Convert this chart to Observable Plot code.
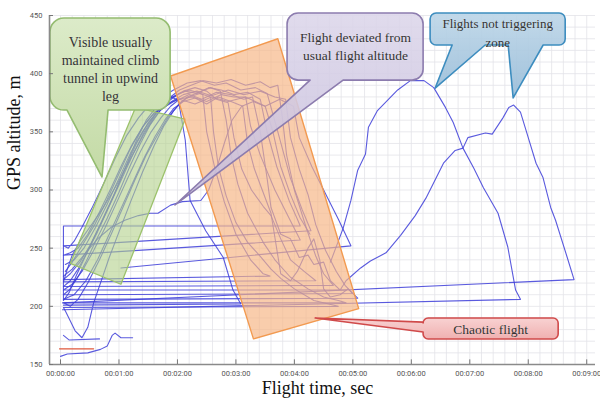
<!DOCTYPE html>
<html>
<head>
<meta charset="utf-8">
<script src="https://cdn.jsdelivr.net/npm/d3@7"></script>
<script src="https://cdn.jsdelivr.net/npm/@observablehq/plot@0.6"></script>
<style>
  body { margin: 0; background: #ffffff; }
  #chart svg { display: block; }
</style>
</head>
<body>
<div id="chart"></div>
<script>
// ---------- axes ----------
const xTicks = [0, 60, 120, 180, 240, 300, 360, 420, 480, 540];
const xTickLabels = ["00:00:00","00:01:00","00:02:00","00:03:00","00:04:00","00:05:00","00:06:00","00:07:00","00:08:00","00:09:00"];
const yTicks = [150, 200, 250, 300, 350, 400, 450];
const xLabel = "Flight time, sec";
const yLabel = "GPS altitude, m";

// ---------- flights: [time s, altitude m] ----------
const flight01 = [[3,269],[3,205],[9,212],[16,226],[26,244],[36,262],[46,280],[57,300],[68,322],[79,345],[88,360],[97,370],[108,377],[118,381],[128,385],[140,383],[152,388],[165,386],[178,382],[192,384],[205,378],[212,350],[222,320],[235,290],[243,275],[246,269],[3,269]];
const flight02 = [[3,252],[8,250],[14,256],[22,268],[32,284],[44,305],[56,327],[68,347],[80,362],[92,374],[104,380],[116,386],[130,392],[144,394],[158,390],[170,392],[185,386],[200,388],[212,383],[223,350],[236,310],[248,283],[257,265],[3,252]];
const flight03 = [[3,244],[10,246],[18,250],[28,262],[40,281],[52,302],[63,322],[74,340],[85,355],[96,366],[108,372],[120,378],[135,380],[150,376],[165,382],[178,380],[190,380],[195,355],[205,330],[220,300],[235,275],[246,257],[3,244]];
const flight04 = [[5,230],[12,238],[22,252],[35,270],[48,292],[60,314],[72,336],[84,354],[96,366],[108,374],[122,378],[138,374],[155,380],[172,376],[190,380],[210,372],[225,378],[239,372],[245,345],[258,320],[270,300],[285,275],[298,252],[62,233]];
const flight05 = [[3,223],[10,228],[20,238],[30,252],[42,272],[54,294],[66,318],[78,340],[90,358],[102,370],[112,377],[122,383],[132,386],[140,384],[146,382],[150,350],[158,320],[168,290],[180,262],[195,240],[208,228],[215,226],[3,223]];
const flight06 = [[3,221],[7,232],[12,244],[20,256],[30,268],[44,285],[58,305],[72,327],[85,347],[96,362],[106,372],[115,380],[126,385],[138,388],[150,385],[160,378],[172,375],[178,345],[186,318],[196,300],[208,286],[216,278],[226,258],[236,240],[250,230],[262,222],[3,221]];
const flight07 = [[3,217],[10,222],[18,232],[27,246],[38,264],[50,286],[62,308],[74,330],[86,350],[98,366],[110,378],[122,386],[134,390],[146,394],[160,392],[175,395],[190,390],[205,393],[215,388],[223,390],[228,360],[232,330],[240,300],[252,268],[262,243],[270,228],[280,218],[3,217]];
const flight08 = [[3,214],[12,219],[22,230],[34,248],[46,268],[58,290],[70,312],[82,333],[93,350],[103,362],[113,372],[122,378],[132,382],[145,378],[160,384],[175,382],[188,378],[197,380],[205,350],[212,310],[216,285],[226,262],[236,258],[245,242],[254,244],[260,236],[270,238],[277,222],[287,214],[293,214],[3,214]];
const flight09 = [[3,210],[9,214],[17,224],[26,238],[36,256],[48,276],[60,298],[71,320],[82,340],[92,356],[102,368],[114,376],[126,382],[140,385],[155,381],[172,386],[188,382],[205,385],[220,380],[231,378],[236,345],[245,318],[254,296],[262,270],[272,248],[283,230],[292,218],[300,211],[3,210]];
const flight10 = [[3,206],[14,210],[26,222],[38,240],[50,262],[62,284],[74,306],[86,328],[97,346],[107,360],[116,370],[126,376],[138,379],[150,374],[162,380],[175,376],[187,372],[192,340],[199,318],[207,300],[216,280],[226,228],[236,222],[243,230],[254,250],[260,258],[266,240],[270,215],[277,208],[287,210],[295,215],[305,207],[3,206]];
const flight11 = [[3,203],[10,200],[18,206],[28,220],[40,240],[52,262],[64,285],[76,308],[88,330],[100,348],[110,362],[120,372],[130,380],[142,384],[154,388],[164,385],[170,360],[175,330],[182,305],[192,280],[208,255],[220,240],[236,225],[254,215],[270,208],[285,205],[293,203],[3,203]];
const flight12 = [[3,199],[5,196],[15,179],[22,173],[28,182],[34,203],[41,220],[50,242],[60,264],[72,290],[84,315],[96,338],[106,355],[116,368],[124,376],[132,380],[143,383],[154,380],[157,350],[162,320],[170,295],[180,272],[192,255],[205,243],[216,232],[226,224],[240,215],[260,205],[285,200],[3,199]];
const flight13 = [[5,236],[14,240],[24,250],[36,268],[48,288],[60,310],[72,332],[84,350],[96,364],[106,374],[114,380],[121,377],[128,343],[133,291],[149,265],[167,242],[177,214],[185,202],[3,201]];
const flight14 = [[3,226],[12,232],[24,244],[38,258],[52,268],[66,274],[80,278],[92,280],[100,280],[113,287],[125,290],[144,291],[152,300],[160,318],[168,340],[176,360],[186,372],[198,376],[210,372],[218,350],[226,320],[236,296],[246,276],[256,262]];
const flightA = [[277,238],[290,267],[298,291],[305,317],[313,331],[316,354],[325,368],[346,386],[359,394],[373,394],[383,388],[395,371],[403,358],[413,336],[424,319],[434,302],[449,280],[459,251],[467,214],[472,206],[2,197]];
const flightB = [[287,214],[293,222],[308,233],[318,239],[334,246],[349,261],[364,278],[375,293],[393,323],[405,334],[413,336],[418,345],[436,349],[443,348],[454,362],[460,371],[465,373],[472,367],[480,345],[488,323],[495,311],[503,285],[508,274],[520,242],[527,223],[2,203]];
const shortFlight1 = [[3,175],[9,171],[40,172]];
const shortFlight2 = [[0,157],[7,159],[28,160],[41,163],[48,166],[53,175],[56,177],[62,173],[74,173]];
const redFlight = [[-1,163.5],[34,163.5]];

// ---------- highlighted zones (polygons, time s / altitude m) ----------
const greenZone = [[77,371],[128,361],[62,219],[10,237],[77,371]];
const orangeZone = [[113,398],[223,430],[306,198],[198,172],[113,398]];

// ---------- callouts ----------
const greenNote = ["Visible usually", "maintained climb", "tunnel in upwind", "leg"];
const purpleNote = ["Flight deviated from", "usual flight altitude"];
const blueNote = ["Flights not triggering", "zone"];
const redNote = ["Chaotic flight"];

const blueFlights = [
  ["f01", flight01], ["f02", flight02], ["f03", flight03], ["f04", flight04],
  ["f05", flight05], ["f06", flight06], ["f07", flight07], ["f08", flight08],
  ["f09", flight09], ["f10", flight10], ["f11", flight11], ["f12", flight12],
  ["f13", flight13], ["f14", flight14], ["fA", flightA], ["fB", flightB],
  ["s1", shortFlight1], ["s2", shortFlight2]
];
const rows = blueFlights.flatMap(([id, pts]) => pts.map(([t, alt]) => ({id, t, alt})));
const redRows = redFlight.map(([t, alt]) => ({t, alt}));
const toRows = pts => pts.map(([t, alt]) => ({t, alt}));

const gridT = d3.range(0, 549, 12);
const gridA = d3.range(150, 451, 10);

const serif = "'Liberation Serif', 'DejaVu Serif', serif";

// callout shape drawn through the plot's own scales
let gradId = 0;
function callout(spec) {
  return function(index, scales) {
    const X = scales.x, Y = scales.y;
    const l = X(spec.t0), r = X(spec.t1), top = Y(spec.aTop), bot = Y(spec.aBot);
    const rr = spec.r;
    let d = `M${l + rr},${top}H${r - rr}A${rr},${rr} 0 0 1 ${r},${top + rr}V${bot - rr}A${rr},${rr} 0 0 1 ${r - rr},${bot}`;
    const bt = (spec.bottomTails || []).slice().sort((a, b) => b.t1 - a.t1);
    for (const tl of bt) d += `H${X(tl.t1)}L${X(tl.tipT)},${Y(tl.tipA)}L${X(tl.t0)},${bot}`;
    d += `H${l + rr}A${rr},${rr} 0 0 1 ${l},${bot - rr}`;
    for (const tl of (spec.leftTails || [])) d += `V${Y(tl.a0)}L${X(tl.tipT)},${Y(tl.tipA)}L${l},${Y(tl.a1)}`;
    d += `V${top + rr}A${rr},${rr} 0 0 1 ${l + rr},${top}Z`;
    const id = "cg" + (gradId++);
    const g = d3.create("svg:g");
    const lg = g.append("defs").append("linearGradient").attr("id", id).attr("x1", 0).attr("y1", 0).attr("x2", 0).attr("y2", 1);
    lg.append("stop").attr("offset", "0%").attr("stop-color", spec.fillTop);
    lg.append("stop").attr("offset", "100%").attr("stop-color", spec.fillBottom);
    g.append("path").attr("d", d).attr("fill", `url(#${id})`).attr("fill-opacity", spec.opacity || 1)
      .attr("stroke", spec.stroke).attr("stroke-width", 1.6).attr("stroke-linejoin", "round");
    return g.node();
  };
}

const noteText = (lines, t, alts, size) =>
  Plot.text(lines.map((s, i) => ({s, t, alt: alts[i]})), {
    x: "t", y: "alt", text: "s", fontSize: size, fontFamily: serif, fill: "#333",
    textAnchor: "middle", lineAnchor: "middle", stroke: "white", strokeOpacity: 0.25, strokeWidth: 0.6
  });

const chart = Plot.plot({
  width: 600,
  height: 405,
  marginLeft: 49,
  marginRight: 5,
  marginTop: 15,
  marginBottom: 41,
  x: {domain: [-11.3, 549], axis: null},
  y: {domain: [150, 450], axis: null},
  style: {background: "#ffffff", fontFamily: "Roboto, 'DejaVu Sans', sans-serif"},
  marks: [
    Plot.ruleX(gridT, {stroke: "#e3e3e8", strokeWidth: 0.8}),
    Plot.ruleY(gridA, {stroke: "#e3e3e8", strokeWidth: 0.8}),
    Plot.line(rows, {x: "t", y: "alt", z: "id", stroke: "#3d3dd8", strokeWidth: 1.1, strokeOpacity: 0.85}),
    Plot.line(redRows, {x: "t", y: "alt", stroke: "#e0583c", strokeWidth: 1.2}),
    Plot.line(toRows(greenZone), {x: "t", y: "alt", fill: "#b3d08a", fillOpacity: 0.6, stroke: "#9cc26c", strokeWidth: 1.3}),
    Plot.line(toRows(orangeZone), {x: "t", y: "alt", fill: "#f6b585", fillOpacity: 0.68, stroke: "#f29a50", strokeWidth: 1.4}),
    callout({t0: -10.3, t1: 113, aTop: 447.4, aBot: 368.3, r: 14, fillTop: "#dcebc9", fillBottom: "#c3daa5", stroke: "#94bc70",
      bottomTails: [{t0: 7.2, t1: 49.3, tipT: 43.1, tipA: 310.7}]}),
    callout({t0: 233, t1: 372.6, aTop: 451.7, aBot: 394, r: 11, fillTop: "#dcd6ea", fillBottom: "#c5bcdb", stroke: "#8c7cae", opacity: 0.88,
      bottomTails: [{t0: 256.6, t1: 290.5, tipT: 118, tipA: 286.7}]}),
    callout({t0: 379.8, t1: 518.4, aTop: 451.7, aBot: 424.2, r: 6, fillTop: "#bdd6e8", fillBottom: "#98bcd8", stroke: "#3d8dbf", opacity: 0.92,
      bottomTails: [{t0: 402.4, t1: 436.3, tipT: 385, tipA: 387.2}, {t0: 459.9, t1: 495.8, tipT: 465, tipA: 378.7}]}),
    callout({t0: 372.6, t1: 511.2, aTop: 189.5, aBot: 171.5, r: 5, fillTop: "#f8d2d2", fillBottom: "#f0b0b0", stroke: "#d04a4a",
      leftTails: [{a0: 177.5, a1: 186, tipT: 261.8, tipA: 189.5}]}),
    noteText(greenNote, 51.3, [426.8, 411.3, 395.8, 380.4], 14),
    noteText(purpleNote, 302.8, [431.1, 415.6], 13.5),
    noteText(blueNote, 448.6, [443.1, 426.8], 13),
    noteText(redNote, 441.4, [180.1], 13.5),
    // axes
    Plot.ruleY([150], {stroke: "#8a8a8a", strokeWidth: 1.6}),
    Plot.ruleX([-11.3], {stroke: "#8a8a8a", strokeWidth: 1.6}),
    Plot.ruleX(xTicks, {y1: 150, y2: 154, stroke: "#777"}),
    Plot.ruleY(yTicks, {x1: -11.3, x2: -7.2, stroke: "#777"}),
    Plot.text(xTicks, {x: d => d, y: 150, text: (d, i) => xTickLabels[i], dy: 9, fontSize: 7.5, fill: "#555"}),
    Plot.text(yTicks, {x: -11.3, y: d => d, text: d => String(d), textAnchor: "end", dx: -7, fontSize: 7.5, fill: "#555"}),
    Plot.text([xLabel], {text: d => d, frameAnchor: "bottom", dy: 29, dx: -5, fontSize: 18, fontFamily: serif, fill: "#111"}),
    Plot.text([yLabel], {text: d => d, frameAnchor: "left", rotate: -90, dx: -35, fontSize: 18, fontFamily: serif, fill: "#111"})
  ]
});
document.getElementById("chart").appendChild(chart);
</script>
</body>
</html>
